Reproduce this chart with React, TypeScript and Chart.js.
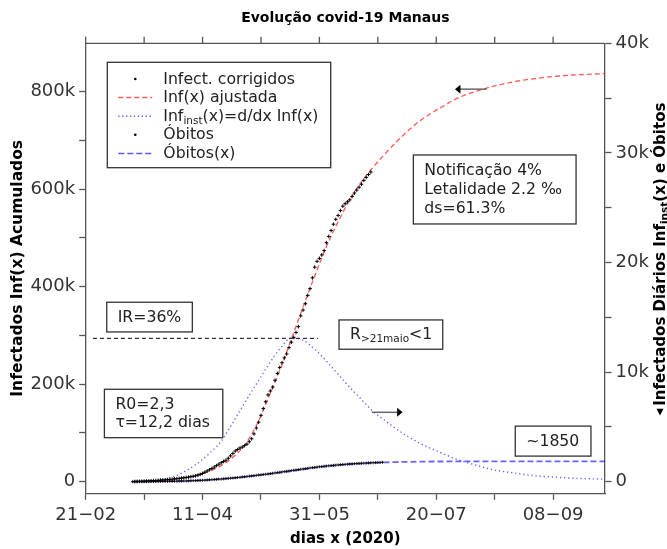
import React, { useEffect, useRef } from 'react';
import { Chart, registerables } from 'chart.js';

Chart.register(...registerables);

const W = 667;
const H = 549;
const FONT = "'DejaVu Sans', sans-serif";

// ---------- axes ----------
const xMinDay = 52; // 21-02-2020 as day of year
const xMaxDay = 274.2;
const xTickDays = [52, 77, 102, 127, 152, 177, 202, 227, 252];
const xTickLabels = ['21−02', '', '11−04', '', '31−05', '', '20−07', '', '08−09'];

const leftMinK = -23.8;
const leftMaxK = 899;
const leftTickVals = [0, 100, 200, 300, 400, 500, 600, 700, 800];
const leftTickLabels = ['0', '', '200k', '', '400k', '', '600k', '', '800k'];

const rightMinK = -1.06;
const rightMaxK = 40;
const rightTickVals = [0, 5, 10, 15, 20, 25, 30, 35, 40];
const rightTickLabels = ['0', '', '10k', '', '20k', '', '30k', '', '40k'];

// ---------- data (thousands) ----------
const infectedStartDay = 73;
const infectedK = [
  0.5, 0.6, 0.8, 1.0, 1.2, 1.4, 1.6, 1.9, 2.2, 2.5,
  2.8, 3.2, 3.6, 4.0, 4.4, 4.8, 5.2, 5.7, 6.2, 6.8,
  7.4, 8.0, 8.7, 9.4, 10.2, 11.0, 12.0, 13.5, 15.0, 17.0,
  19.5, 22.0, 24.5, 27.0, 30.0, 33.0, 36.0, 39.0, 41.5, 44.0,
  48, 53, 58, 63, 66, 69, 71, 74, 77, 82,
  88, 98, 110, 122, 136, 150, 164, 178, 186, 194,
  208, 222, 234, 244, 254, 262, 275, 286, 296, 306,
  318, 340, 352, 365, 382, 396, 418, 440, 452, 458,
  465, 474, 490, 503, 515, 528, 538, 546, 556, 565,
  570, 574, 578, 585, 592, 598, 604, 610, 618, 624, 630, 635,
];

const deathsStartDay = 72;
const deathsK = [
  0, 0, 0, 0, 0, 0, 0, 0, 0.01, 0.01, 0.01, 0.01, 0.02, 0.02,
  0.02, 0.03, 0.03, 0.03, 0.04, 0.04, 0.05, 0.05, 0.06, 0.06, 0.07, 0.08, 0.09, 0.1,
  0.11, 0.12, 0.13, 0.14, 0.15, 0.17, 0.18, 0.2, 0.21, 0.23,
  0.24, 0.26, 0.28, 0.3, 0.32, 0.34, 0.36, 0.38, 0.4, 0.43,
  0.45, 0.48, 0.5, 0.53, 0.55, 0.58, 0.61, 0.63, 0.66, 0.68,
  0.71, 0.74, 0.77, 0.8, 0.83, 0.86, 0.89, 0.92, 0.95, 0.98,
  1.01, 1.04, 1.07, 1.1, 1.13, 1.16, 1.19, 1.22, 1.25, 1.28,
  1.31, 1.33, 1.36, 1.38, 1.41, 1.43, 1.45, 1.47, 1.49, 1.51,
  1.53, 1.55, 1.57, 1.58, 1.6, 1.62, 1.63, 1.64, 1.66, 1.67,
  1.68, 1.69, 1.7, 1.71, 1.72, 1.73, 1.74, 1.75, 1.76, 1.77,
];

const fitDays = [
  72, 75, 80, 85, 90, 95, 100, 105, 110, 115, 120, 125, 130, 135, 140, 145, 150,
  155, 160, 165, 170, 175, 180, 185, 190, 195, 200, 205, 210, 215, 220, 225, 230,
  235, 240, 245, 250, 255, 260, 265, 270, 274.2,
];
const fitInfK = [
  0, 0.3, 1, 2.5, 5, 9, 14, 22, 33, 50, 75, 115, 170, 228, 292, 358, 422,
  482, 533, 578, 615, 645, 672, 697, 720, 740, 756, 770, 784, 794, 802, 809, 815,
  820, 824, 827, 830, 832, 834, 835, 836, 837,
];
const instK = [
  0, 0.02, 0.06, 0.2, 0.5, 1.0, 1.7, 2.6, 3.7, 5.4, 7.2, 8.9, 10.6, 12.1, 13.1, 12.9, 12.1,
  11.0, 9.8, 8.6, 7.5, 6.4, 5.6, 4.8, 4.1, 3.5, 3.0, 2.55, 2.1, 1.75, 1.45, 1.15, 0.95,
  0.8, 0.65, 0.52, 0.45, 0.38, 0.32, 0.28, 0.25, 0.23,
];

const deathFitDays = [
  72, 80, 90, 100, 105, 110, 115, 120, 125, 130, 135, 140, 145, 150, 155, 160, 165,
  170, 175, 180, 185, 190, 195, 200, 210, 220, 240, 274.2,
];
const deathFitK = [
  0, 0.02, 0.06, 0.11, 0.17, 0.24, 0.33, 0.43, 0.55, 0.68, 0.83, 0.98, 1.13, 1.28, 1.4, 1.51, 1.59,
  1.66, 1.72, 1.76, 1.79, 1.81, 1.83, 1.84, 1.845, 1.85, 1.85, 1.85,
];

const irLineDays = [55.1, 151.4];
const irLevelK = 294;

// ---------- drawing helpers ----------
type Seg = { t: string; sub?: boolean };
const TXT = 15.7;
const SUB = 10.5;

function drawRich(ctx: CanvasRenderingContext2D, segs: Seg[], x: number, y: number, size: number, sub: number, bold = false) {
  let cx = x;
  for (const s of segs) {
    ctx.font = `${bold ? 'bold ' : ''}${s.sub ? sub : size}px ${FONT}`;
    ctx.fillText(s.t, cx, s.sub ? y + size * 0.27 : y);
    cx += ctx.measureText(s.t).width;
  }
  return cx - x;
}
function richWidth(ctx: CanvasRenderingContext2D, segs: Seg[], size: number, sub: number, bold = false) {
  let w = 0;
  for (const s of segs) {
    ctx.font = `${bold ? 'bold ' : ''}${s.sub ? sub : size}px ${FONT}`;
    w += ctx.measureText(s.t).width;
  }
  return w;
}

const annotPlugin = {
  id: 'annot',
  afterDatasetsDraw(chart: any) {
    const { ctx, chartArea: ca, scales } = chart;
    const xs = scales.x, yl = scales.y, yr = scales.y1;
    const line = (x1: number, y1: number, x2: number, y2: number) => {
      ctx.beginPath(); ctx.moveTo(x1, y1); ctx.lineTo(x2, y2); ctx.stroke();
    };
    ctx.save();
    // top spine + ticks
    ctx.strokeStyle = '#555';
    ctx.lineWidth = 1.3;
    line(ca.left, ca.top, ca.right, ca.top);
    xTickDays.forEach((d) => {
      const px = xs.getPixelForValue(d);
      line(px, ca.top, px, ca.top - 6.5);
    });

    // arrows
    const arrow = (x1: number, x2: number, y: number) => {
      ctx.strokeStyle = '#666';
      ctx.lineWidth = 1.5;
      const dir = Math.sign(x2 - x1);
      line(x1, y, x2 - dir * 4, y);
      ctx.fillStyle = '#000';
      ctx.beginPath();
      ctx.moveTo(x2, y);
      ctx.lineTo(x2 - dir * 5.5, y - 4.5);
      ctx.lineTo(x2 - dir * 5.5, y + 4.5);
      ctx.closePath();
      ctx.fill();
    };
    arrow(xs.getPixelForValue(223.6), xs.getPixelForValue(210), yl.getPixelForValue(805));
    arrow(xs.getPixelForValue(174.4), xs.getPixelForValue(187.6), yr.getPixelForValue(6.33));

    // text boxes
    const box = (px: number, py: number, w: number, h: number, lines: Seg[][]) => {
      ctx.fillStyle = '#fff';
      ctx.fillRect(px, py, w, h);
      ctx.strokeStyle = '#333';
      ctx.lineWidth = 1.3;
      ctx.strokeRect(px, py, w, h);
      ctx.fillStyle = '#222';
      ctx.textBaseline = 'middle';
      ctx.textAlign = 'left';
      const n = lines.length;
      const lh = 18.8;
      const y0 = py + h / 2 - ((n - 1) * lh) / 2 + 0.5;
      lines.forEach((segs, i) => drawRich(ctx, segs, px + 11, y0 + i * lh, TXT, SUB));
    };
    box(xs.getPixelForValue(192.2), yl.getPixelForValue(670), 162.7, 69, [
      [{ t: 'Notificação 4%' }],
      [{ t: 'Letalidade 2.2 ‰' }],
      [{ t: 'ds=61.3%' }],
    ]);
    box(xs.getPixelForValue(61), yl.getPixelForValue(368), 85.6, 29.7, [[{ t: 'IR=36%' }]]);
    box(xs.getPixelForValue(160.4), yl.getPixelForValue(331.7), 103.7, 29.3, [
      [{ t: 'R' }, { t: '>21maio', sub: true }, { t: '<1' }],
    ]);
    box(xs.getPixelForValue(60), yl.getPixelForValue(189.5), 118.4, 48.4, [
      [{ t: 'R0=2,3' }],
      [{ t: 'τ=12,2 dias' }],
    ]);
    box(xs.getPixelForValue(235.8), yl.getPixelForValue(114), 75.7, 30, [[{ t: '~1850' }]]);

    // legend
    const lx = ca.left + 21.6, ly = ca.top + 19;
    ctx.fillStyle = '#fff';
    ctx.fillRect(lx, ly, 223.4, 105.4);
    ctx.strokeStyle = '#333';
    ctx.lineWidth = 1.3;
    ctx.strokeRect(lx, ly, 223.4, 105.4);
    const rows: { segs: Seg[]; kind: string; color?: string; dash?: number[] }[] = [
      { segs: [{ t: 'Infect. corrigidos' }], kind: 'pt' },
      { segs: [{ t: 'Inf(x) ajustada' }], kind: 'ln', color: 'rgba(255,0,0,0.65)', dash: [5, 3] },
      { segs: [{ t: 'Inf' }, { t: 'inst', sub: true }, { t: '(x)=d/dx Inf(x)' }], kind: 'ln', color: 'rgba(0,0,255,0.65)', dash: [1.3, 2.6] },
      { segs: [{ t: 'Óbitos' }], kind: 'pt' },
      { segs: [{ t: 'Óbitos(x)' }], kind: 'ln', color: 'rgba(0,0,255,0.65)', dash: [6, 3] },
    ];
    rows.forEach((r, i) => {
      const ry = ly + 16.7 + i * 18.6;
      if (r.kind === 'pt') {
        ctx.fillStyle = '#000';
        ctx.beginPath();
        ctx.arc(lx + 28, ry, 1.3, 0, Math.PI * 2);
        ctx.fill();
      } else {
        ctx.strokeStyle = r.color;
        ctx.lineWidth = 1.5;
        ctx.setLineDash(r.dash);
        line(lx + 11, ry, lx + 45, ry);
        ctx.setLineDash([]);
      }
      ctx.fillStyle = '#222';
      ctx.textBaseline = 'middle';
      drawRich(ctx, r.segs, lx + 56, ry + 0.5, TXT, SUB);
    });

    // titles
    const cx = (ca.left + ca.right) / 2;
    ctx.fillStyle = '#000';
    ctx.textAlign = 'center';
    ctx.textBaseline = 'middle';
    ctx.font = `bold 14px ${FONT}`;
    ctx.fillText('Evolução covid-19 Manaus', cx, 18);
    ctx.font = `bold 15px ${FONT}`;
    ctx.fillText('dias x (2020)', cx, 539);

    // left label
    ctx.save();
    ctx.translate(18, (ca.top + ca.bottom) / 2);
    ctx.rotate(-Math.PI / 2);
    ctx.font = `bold 15.5px ${FONT}`;
    ctx.fillText('Infectados Inf(x) Acumulados', 0, 0);
    ctx.restore();

    // right label with marker
    ctx.save();
    ctx.translate(661, 259);
    ctx.rotate(-Math.PI / 2);
    ctx.textAlign = 'left';
    const rsegs: Seg[] = [{ t: 'Infectados Diários Inf' }, { t: 'inst', sub: true }, { t: '(x) e Óbitos' }];
    const tw = richWidth(ctx, rsegs, 15, 10.5, true);
    const tot = 6.6 + 3 + tw;
    const s = -tot / 2;
    ctx.fillStyle = '#000';
    ctx.beginPath();
    ctx.moveTo(s, -1);
    ctx.lineTo(s + 6.6, -4.5);
    ctx.lineTo(s + 6.6, 2.5);
    ctx.closePath();
    ctx.fill();
    drawRich(ctx, rsegs, s + 9.6, 0, 15, 10.5, true);
    ctx.restore();

    ctx.restore();
  },
};

export default function App() {
  const ref = useRef<HTMLCanvasElement>(null);
  useEffect(() => {
    if (!ref.current) return;
    const pts = (start: number, arr: number[]) => arr.map((v, i) => ({ x: start + i, y: v }));
    const xy = (xs: number[], ys: number[]) => xs.map((x, i) => ({ x, y: ys[i] }));
    const chart = new Chart(ref.current, {
      type: 'line',
      data: {
        datasets: [
          {
            label: 'Infect. corrigidos',
            data: pts(infectedStartDay, infectedK),
            yAxisID: 'y',
            showLine: false,
            pointStyle: 'cross',
            pointRadius: 1.8,
            pointBorderWidth: 1,
            borderColor: '#000',
            backgroundColor: '#000',
          },
          {
            label: 'Óbitos',
            data: pts(deathsStartDay, deathsK),
            yAxisID: 'y1',
            showLine: false,
            pointStyle: 'cross',
            pointRadius: 1.5,
            pointBorderWidth: 1,
            borderColor: 'rgba(0,0,0,0.85)',
            backgroundColor: '#000',
          },
          {
            label: 'Inf(x) ajustada',
            data: xy(fitDays, fitInfK),
            yAxisID: 'y',
            borderColor: 'rgba(255,0,0,0.65)',
            borderDash: [5, 3],
            borderWidth: 1.3,
            pointRadius: 0,
            cubicInterpolationMode: 'monotone',
          },
          {
            label: 'Inf_inst',
            data: xy(fitDays, instK),
            yAxisID: 'y1',
            borderColor: 'rgba(0,0,255,0.6)',
            borderDash: [1.3, 2.8],
            borderWidth: 1.4,
            pointRadius: 0,
            cubicInterpolationMode: 'monotone',
          },
          {
            label: 'Óbitos(x)',
            data: xy(deathFitDays, deathFitK),
            yAxisID: 'y1',
            borderColor: 'rgba(0,0,255,0.6)',
            borderDash: [6, 3],
            borderWidth: 1.8,
            pointRadius: 0,
            cubicInterpolationMode: 'monotone',
          },
          {
            label: 'IR',
            data: irLineDays.map((d) => ({ x: d, y: irLevelK })),
            yAxisID: 'y',
            borderColor: '#000',
            borderDash: [4, 3],
            borderWidth: 1,
            pointRadius: 0,
          },
        ],
      },
      options: {
        animation: false,
        responsive: false,
        layout: { padding: { top: 43.3, left: 0, right: 0, bottom: 0 } },
        plugins: { legend: { display: false }, title: { display: false }, tooltip: { enabled: false } },
        scales: {
          x: {
            type: 'linear',
            min: xMinDay,
            max: xMaxDay,
            afterBuildTicks: (s: any) => { s.ticks = xTickDays.map((v) => ({ value: v })); },
            afterFit: (s: any) => { s.height = H - 493.3; },
            ticks: {
              autoSkip: false,
              maxRotation: 0,
              padding: 5,
              color: '#333',
              font: { family: FONT, size: 18 },
              callback: (v: any) => xTickLabels[xTickDays.indexOf(Number(v))] ?? '',
            },
            grid: { drawOnChartArea: false, tickLength: 6.5, color: '#555', tickWidth: 1.3 },
            border: { color: '#555', width: 1.3 },
          },
          y: {
            type: 'linear',
            position: 'left',
            min: leftMinK,
            max: leftMaxK,
            afterBuildTicks: (s: any) => { s.ticks = leftTickVals.map((v) => ({ value: v })); },
            afterFit: (s: any) => { s.width = 85.7; },
            ticks: {
              autoSkip: false,
              padding: 4,
              color: '#333',
              font: { family: FONT, size: 18 },
              callback: (v: any) => leftTickLabels[leftTickVals.indexOf(Number(v))] ?? '',
            },
            grid: { drawOnChartArea: false, tickLength: 6.5, color: '#555', tickWidth: 1.3 },
            border: { color: '#555', width: 1.3 },
          },
          y1: {
            type: 'linear',
            position: 'right',
            min: rightMinK,
            max: rightMaxK,
            afterBuildTicks: (s: any) => { s.ticks = rightTickVals.map((v) => ({ value: v })); },
            afterFit: (s: any) => { s.width = W - 605; },
            ticks: {
              autoSkip: false,
              padding: 4,
              color: '#333',
              font: { family: FONT, size: 18 },
              callback: (v: any) => rightTickLabels[rightTickVals.indexOf(Number(v))] ?? '',
            },
            grid: { drawOnChartArea: false, tickLength: 6.5, color: '#555', tickWidth: 1.3 },
            border: { color: '#555', width: 1.3 },
          },
        },
      },
      plugins: [annotPlugin],
    } as any);
    return () => chart.destroy();
  }, []);
  return (
    <div style={{ position: 'absolute', left: 0, top: 0, width: W, height: H, background: '#fff' }}>
      <canvas ref={ref} width={W} height={H} style={{ width: W, height: H, display: 'block' }} />
    </div>
  );
}
